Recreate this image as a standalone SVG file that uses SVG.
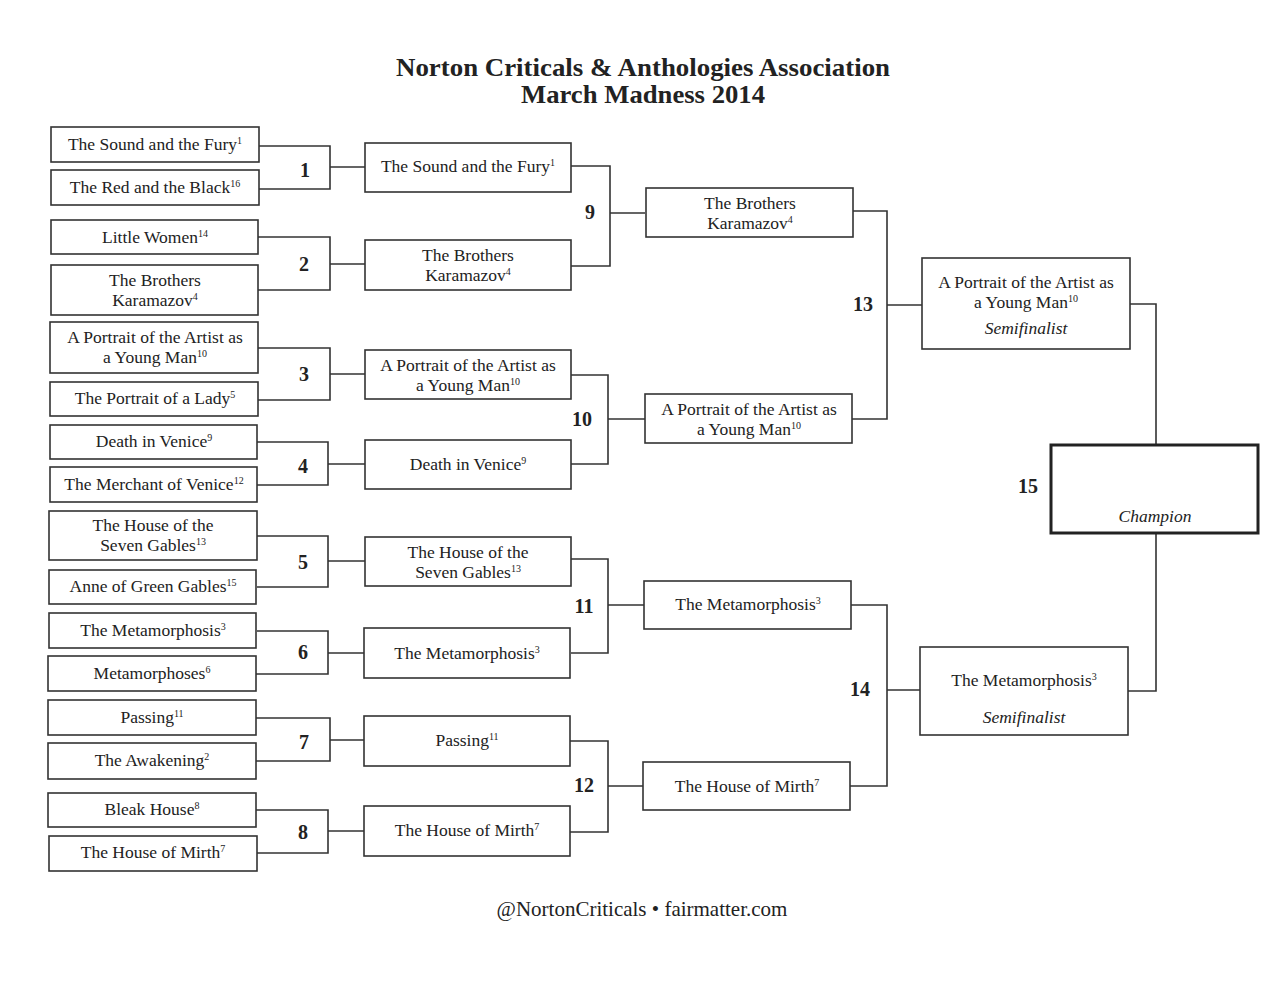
<svg xmlns="http://www.w3.org/2000/svg" width="1280" height="986" viewBox="0 0 1280 986">
<style>
.b{fill:#fff;stroke:#333;stroke-width:1.6}
.ch{fill:#fff;stroke:#222;stroke-width:3}
.t{font-family:"Liberation Serif","DejaVu Serif",serif;font-size:17.5px;fill:#222;text-anchor:middle}
.s{font-size:10px}
.i{font-style:italic}
.n{font-family:"Liberation Serif","DejaVu Serif",serif;font-size:20px;font-weight:bold;fill:#222;text-anchor:middle}
.h{font-family:"Liberation Serif","DejaVu Serif",serif;font-size:25px;font-weight:bold;fill:#222;text-anchor:middle}
.f{font-family:"Liberation Serif","DejaVu Serif",serif;font-size:21px;fill:#222;text-anchor:middle}
.c{fill:none;stroke:#333;stroke-width:1.6}
</style>
<rect width="1280" height="986" fill="#fff"/>
<g id="title">
<text class="h" x="643" y="76" textLength="494" lengthAdjust="spacingAndGlyphs">Norton Criticals &amp; Anthologies Association</text>
<text class="h" x="643" y="103" textLength="244" lengthAdjust="spacingAndGlyphs">March Madness 2014</text>
</g>
<g id="connectors">
<path class="c" d="M259 146 H330 V189 H259 M330 167 H365"/>
<path class="c" d="M258 237 H330 V290 H258 M330 264 H365"/>
<path class="c" d="M258 348 H330 V400 H258 M330 374 H365"/>
<path class="c" d="M257 442 H328 V485 H257 M328 464 H365"/>
<path class="c" d="M257 536 H328 V587 H257 M328 561 H365"/>
<path class="c" d="M257 631 H328 V674 H256 M328 653 H365"/>
<path class="c" d="M256 718 H330 V761 H256 M330 740 H364"/>
<path class="c" d="M256 810 H328 V853 H257 M328 831 H364"/>
<path class="c" d="M571 166 H610 V266 H571 M610 213 H645"/>
<path class="c" d="M571 375 H608 V464 H571 M608 419 H645"/>
<path class="c" d="M571 559 H608 V653 H571 M608 605 H645"/>
<path class="c" d="M570 741 H608 V832 H570 M608 786 H643"/>
<path class="c" d="M852 211 H887 V419 H852 M887 305 H922"/>
<path class="c" d="M851 605 H887 V786 H850 M887 690 H920"/>
<path class="c" d="M1130 304 H1156 V445 M1156 533 V691 H1128"/>
</g>
<g id="labels">
<text class="n" x="305" y="177">1</text>
<text class="n" x="304" y="271">2</text>
<text class="n" x="304" y="381">3</text>
<text class="n" x="303" y="473">4</text>
<text class="n" x="303" y="569">5</text>
<text class="n" x="303" y="659">6</text>
<text class="n" x="304" y="749">7</text>
<text class="n" x="303" y="839">8</text>
<text class="n" x="590" y="219">9</text>
<text class="n" x="582" y="426">10</text>
<text class="n" x="584" y="613">11</text>
<text class="n" x="584" y="792">12</text>
<text class="n" x="863" y="311">13</text>
<text class="n" x="860" y="696">14</text>
<text class="n" x="1028" y="493">15</text>
</g>
<g id="r1-1"><rect class="b" x="51" y="127" width="208" height="35"/><text class="t" x="155" y="150">The Sound and the Fury<tspan class="s" dy="-6">1</tspan></text></g>
<g id="r1-2"><rect class="b" x="51" y="170" width="208" height="35"/><text class="t" x="155" y="193">The Red and the Black<tspan class="s" dy="-6">16</tspan></text></g>
<g id="r1-3"><rect class="b" x="51" y="220" width="207" height="34"/><text class="t" x="155" y="243">Little Women<tspan class="s" dy="-6">14</tspan></text></g>
<g id="r1-4"><rect class="b" x="51" y="265" width="207" height="50"/><text class="t" x="155" y="286">The Brothers</text><text class="t" x="155" y="306">Karamazov<tspan class="s" dy="-6">4</tspan></text></g>
<g id="r1-5"><rect class="b" x="50" y="322" width="208" height="51"/><text class="t" x="155" y="343">A Portrait of the Artist as</text><text class="t" x="155" y="363">a Young Man<tspan class="s" dy="-6">10</tspan></text></g>
<g id="r1-6"><rect class="b" x="50" y="382" width="208" height="34"/><text class="t" x="155" y="404">The Portrait of a Lady<tspan class="s" dy="-6">5</tspan></text></g>
<g id="r1-7"><rect class="b" x="50" y="425" width="207" height="34"/><text class="t" x="154" y="447">Death in Venice<tspan class="s" dy="-6">9</tspan></text></g>
<g id="r1-8"><rect class="b" x="50" y="467" width="207" height="35"/><text class="t" x="154" y="490">The Merchant of Venice<tspan class="s" dy="-6">12</tspan></text></g>
<g id="r1-9"><rect class="b" x="49" y="511" width="208" height="49"/><text class="t" x="153" y="531">The House of the</text><text class="t" x="153" y="551">Seven Gables<tspan class="s" dy="-6">13</tspan></text></g>
<g id="r1-10"><rect class="b" x="49" y="570" width="207" height="34"/><text class="t" x="153" y="592">Anne of Green Gables<tspan class="s" dy="-6">15</tspan></text></g>
<g id="r1-11"><rect class="b" x="49" y="613" width="207" height="35"/><text class="t" x="153" y="636">The Metamorphosis<tspan class="s" dy="-6">3</tspan></text></g>
<g id="r1-12"><rect class="b" x="48" y="656" width="208" height="35"/><text class="t" x="152" y="679">Metamorphoses<tspan class="s" dy="-6">6</tspan></text></g>
<g id="r1-13"><rect class="b" x="48" y="700" width="208" height="35"/><text class="t" x="152" y="723">Passing<tspan class="s" dy="-6">11</tspan></text></g>
<g id="r1-14"><rect class="b" x="48" y="743" width="208" height="36"/><text class="t" x="152" y="766">The Awakening<tspan class="s" dy="-6">2</tspan></text></g>
<g id="r1-15"><rect class="b" x="48" y="793" width="208" height="34"/><text class="t" x="152" y="815">Bleak House<tspan class="s" dy="-6">8</tspan></text></g>
<g id="r1-16"><rect class="b" x="49" y="836" width="208" height="35"/><text class="t" x="153" y="858">The House of Mirth<tspan class="s" dy="-6">7</tspan></text></g>
<g id="r2-1"><rect class="b" x="365" y="143" width="206" height="49"/><text class="t" x="468" y="172">The Sound and the Fury<tspan class="s" dy="-6">1</tspan></text></g>
<g id="r2-2"><rect class="b" x="365" y="240" width="206" height="50"/><text class="t" x="468" y="261">The Brothers</text><text class="t" x="468" y="281">Karamazov<tspan class="s" dy="-6">4</tspan></text></g>
<g id="r2-3"><rect class="b" x="365" y="350" width="206" height="49"/><text class="t" x="468" y="371">A Portrait of the Artist as</text><text class="t" x="468" y="391">a Young Man<tspan class="s" dy="-6">10</tspan></text></g>
<g id="r2-4"><rect class="b" x="365" y="440" width="206" height="49"/><text class="t" x="468" y="470">Death in Venice<tspan class="s" dy="-6">9</tspan></text></g>
<g id="r2-5"><rect class="b" x="365" y="537" width="206" height="49"/><text class="t" x="468" y="558">The House of the</text><text class="t" x="468" y="578">Seven Gables<tspan class="s" dy="-6">13</tspan></text></g>
<g id="r2-6"><rect class="b" x="364" y="628" width="206" height="50"/><text class="t" x="467" y="659">The Metamorphosis<tspan class="s" dy="-6">3</tspan></text></g>
<g id="r2-7"><rect class="b" x="364" y="716" width="206" height="50"/><text class="t" x="467" y="746">Passing<tspan class="s" dy="-6">11</tspan></text></g>
<g id="r2-8"><rect class="b" x="364" y="806" width="206" height="50"/><text class="t" x="467" y="836">The House of Mirth<tspan class="s" dy="-6">7</tspan></text></g>
<g id="r3-1"><rect class="b" x="646" y="188" width="207" height="49"/><text class="t" x="750" y="209">The Brothers</text><text class="t" x="750" y="229">Karamazov<tspan class="s" dy="-6">4</tspan></text></g>
<g id="r3-2"><rect class="b" x="645" y="394" width="207" height="49"/><text class="t" x="749" y="415">A Portrait of the Artist as</text><text class="t" x="749" y="435">a Young Man<tspan class="s" dy="-6">10</tspan></text></g>
<g id="r3-3"><rect class="b" x="644" y="581" width="207" height="48"/><text class="t" x="748" y="610">The Metamorphosis<tspan class="s" dy="-6">3</tspan></text></g>
<g id="r3-4"><rect class="b" x="643" y="762" width="207" height="48"/><text class="t" x="747" y="792">The House of Mirth<tspan class="s" dy="-6">7</tspan></text></g>
<g id="semi-1"><rect class="b" x="922" y="258" width="208" height="91"/><text class="t" x="1026" y="288">A Portrait of the Artist as</text><text class="t" x="1026" y="308">a Young Man<tspan class="s" dy="-6">10</tspan></text><text class="t i" x="1026" y="334">Semifinalist</text></g>
<g id="semi-2"><rect class="b" x="920" y="647" width="208" height="88"/><text class="t" x="1024" y="686">The Metamorphosis<tspan class="s" dy="-6">3</tspan></text><text class="t i" x="1024" y="723">Semifinalist</text></g>
<g id="champion"><rect class="ch" x="1051" y="445" width="207" height="88"/><text class="t i" x="1155" y="522">Champion</text></g>
<g id="footer"><text class="f" x="642" y="916">@NortonCriticals • fairmatter.com</text></g>
</svg>
